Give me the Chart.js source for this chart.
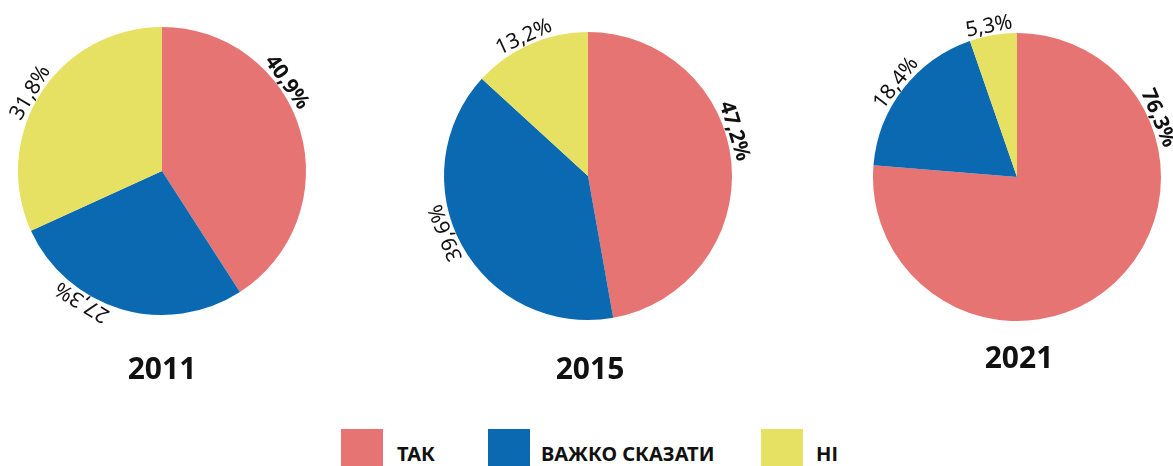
<!DOCTYPE html>
<html>
<head>
<meta charset="utf-8">
<script src="https://cdn.jsdelivr.net/npm/chart.js@4.4.1/dist/chart.umd.min.js"></script>
<style>
  html, body { margin: 0; padding: 0; background: #fff; }
  body { width: 1173px; height: 466px; position: relative; overflow: hidden; font-family: "Noto Sans", sans-serif; color: #111; }
  .pie { position: absolute; width: 400px; height: 400px; }
  .year { position: absolute; width: 200px; text-align: center; font-size: 30px; line-height: 30px; font-weight: bold; }
  .box { position: absolute; width: 42px; height: 42px; top: 429px; }
  .lab { position: absolute; top: 444px; font-size: 20px; line-height: 20px; font-weight: bold; white-space: nowrap; }
</style>
</head>
<body>

<div class="pie" style="left:-38px; top:-29px;"><canvas id="pie2011" width="400" height="400"></canvas></div>
<div class="pie" style="left:388px; top:-24px;"><canvas id="pie2015" width="400" height="400"></canvas></div>
<div class="pie" style="left:817px; top:-23px;"><canvas id="pie2021" width="400" height="400"></canvas></div>

<div class="year" id="t0" style="left:62px; top:353px;"></div>
<div class="year" id="t1" style="left:490px; top:353px;"></div>
<div class="year" id="t2" style="left:919px; top:342px;"></div>

<div class="box" id="b0" style="left:341px;"></div><div class="lab" id="l0" style="left:397px;"></div>
<div class="box" id="b1" style="left:488px;"></div><div class="lab" id="l1" style="left:541px;"></div>
<div class="box" id="b2" style="left:761px;"></div><div class="lab" id="l2" style="left:816px;"></div>

<script>
// answers and years
const categories = ["ТАК", "ВАЖКО СКАЗАТИ", "НІ"];
const years = ["2011", "2015", "2021"];

// percentages per year, same order as categories
const values2011 = [40.9, 27.3, 31.8];
const values2015 = [47.2, 39.6, 13.2];
const values2021 = [76.3, 18.4, 5.3];

const colors = ["#E67473", "#0A69B0", "#E6E162"];

// how far (degrees) each label is slid along the rim from the slice middle
const labelShift = {
    "2011": [-19, 15, -2],
    "2015": [-12, 7, -1],
    "2021": [-70, 0, -1]
};

function fmt(v) {
    return v.toFixed(1).replace(".", ",") + "%";
}

// draws the percentages rotated along the outside of the pie
const rimLabels = {
    id: "rimLabels",
    afterDatasetsDraw(chart) {
        const ctx = chart.ctx;
        const meta = chart.getDatasetMeta(0);
        const data = chart.data.datasets[0].data;
        const shift = labelShift[chart.options.plugins.rimLabels.year];
        meta.data.forEach((arc, i) => {
            const p = arc.getProps(["x", "y", "startAngle", "endAngle", "outerRadius"], true);
            const a = (p.startAngle + p.endAngle) / 2 + shift[i] * Math.PI / 180;
            const r = p.outerRadius + 3;
            ctx.save();
            ctx.translate(p.x + Math.cos(a) * r, p.y + Math.sin(a) * r);
            ctx.rotate(a + Math.PI / 2);
            ctx.font = (i === 0 ? "bold " : "") + "21px 'Noto Sans'";
            ctx.fillStyle = "#111";
            ctx.textAlign = "center";
            ctx.textBaseline = "alphabetic";
            ctx.fillText(fmt(data[i]), 0, 0);
            ctx.restore();
        });
    }
};

function makePie(id, year, values) {
    const ctx = document.getElementById(id).getContext("2d");
    return new Chart(ctx, {
        type: "pie",
        data: {
            labels: categories,
            datasets: [{
                data: values,
                backgroundColor: colors,
                borderWidth: 0
            }]
        },
        options: {
            responsive: false,
            animation: false,
            events: [],
            layout: { padding: 56 },
            plugins: {
                legend: { display: false },
                tooltip: { enabled: false },
                rimLabels: { year: year }
            }
        },
        plugins: [rimLabels]
    });
}

makePie("pie2011", "2011", values2011);
makePie("pie2015", "2015", values2015);
makePie("pie2021", "2021", values2021);

years.forEach((y, i) => { document.getElementById("t" + i).textContent = y; });
categories.forEach((c, i) => {
    document.getElementById("b" + i).style.background = colors[i];
    document.getElementById("l" + i).textContent = c;
});
</script>
</body>
</html>
